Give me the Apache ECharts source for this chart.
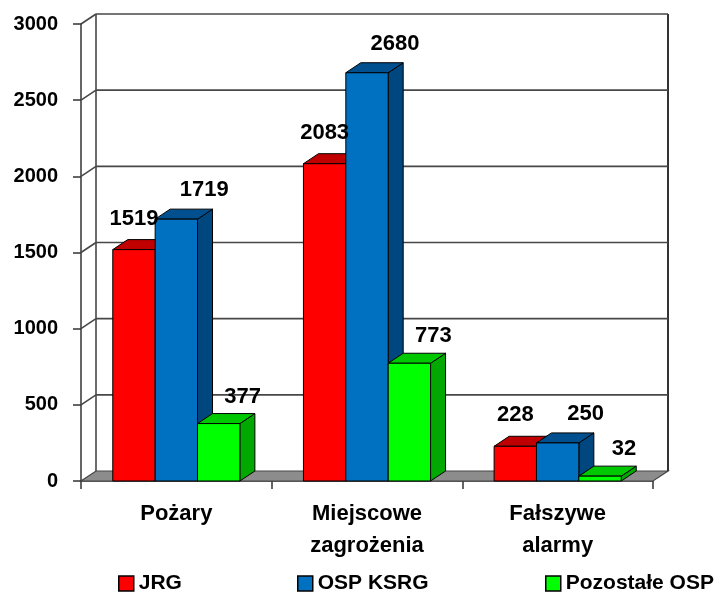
<!DOCTYPE html>
<html>
<head>
<meta charset="utf-8">
<script src="https://cdn.jsdelivr.net/npm/echarts@6/dist/echarts.min.js"></script>
<style>
  html, body { margin: 0; padding: 0; background: #fff; }
  #chart { width: 717px; height: 592px; }
</style>
</head>
<body>
<div id="chart"></div>
<script>
// dane
var categories = ['Pożary', 'Miejscowe\nzagrożenia', 'Fałszywe\nalarmy'];
var seriesNames = ['JRG', 'OSP KSRG', 'Pozostałe OSP'];
var jrg = [1519, 2083, 228];
var ospKsrg = [1719, 2680, 250];
var pozostale = [377, 773, 32];
var yTicks = [0, 500, 1000, 1500, 2000, 2500, 3000];

var DX = 15, DY = 10;          // glebokosc 3D
var LINE = '#474747';
var FONT = '"Liberation Sans", Arial, sans-serif';

var faces = [
  { front: '#ff0000', top: '#c00000', side: '#b00000', lx: 0,  ly: 31 },
  { front: '#0070c0', top: '#00508f', side: '#00477f', lx: 28, ly: 29 },
  { front: '#00ff00', top: '#00c800', side: '#00a800', lx: 24, ly: 27 }
];

function toPairs(arr) {
  return arr.map(function (v, i) { return [i, v]; });
}

// sciany i podloga
function renderWall(params, api) {
  var cs = params.coordSys;
  var v = api.value(0);
  var y = api.coord([0, v])[1];
  var left = cs.x, right = cs.x + cs.width;
  var ch = [];
  if (v === 0) {
    ch.push({
      type: 'polygon',
      shape: { points: [[left, y], [right, y], [right + DX, y - DY], [left + DX, y - DY]] },
      style: { fill: '#8c8c8c', stroke: LINE, lineWidth: 1.2 }
    });
    var yTop = api.coord([0, yTicks[yTicks.length - 1]])[1];
    ch.push({ type: 'line', shape: { x1: left + DX, y1: yTop - DY, x2: left + DX, y2: y - DY }, style: { stroke: LINE, lineWidth: 1.6 } });
    ch.push({ type: 'line', shape: { x1: right + DX, y1: yTop - DY, x2: right + DX, y2: y - DY }, style: { stroke: '#333', lineWidth: 2 } });
  } else {
    ch.push({ type: 'line', shape: { x1: left, y1: y, x2: left + DX, y2: y - DY }, style: { stroke: LINE, lineWidth: 1.6 } });
    ch.push({ type: 'line', shape: { x1: left + DX, y1: y - DY, x2: right + DX, y2: y - DY }, style: { stroke: LINE, lineWidth: 1.6 } });
  }
  return { type: 'group', children: ch };
}

function barRenderer(s) {
  var f = faces[s];
  return function (params, api) {
    var c = api.value(0), v = api.value(1);
    var base = api.coord([c, 0]);
    var top = api.coord([c, v]);
    var bw = api.size([1, 0])[0] / 4.5;
    var x0 = base[0] - 1.5 * bw + s * bw, x1 = x0 + bw;
    var yt = top[1], yb = base[1];
    var st = { stroke: '#000', lineWidth: 1 };
    return {
      type: 'group',
      children: [
        { type: 'polygon', shape: { points: [[x1, yb], [x1, yt], [x1 + DX, yt - DY], [x1 + DX, yb - DY]] },
          style: Object.assign({ fill: f.side }, st) },
        { type: 'polygon', shape: { points: [[x0, yt], [x1, yt], [x1 + DX, yt - DY], [x0 + DX, yt - DY]] },
          style: Object.assign({ fill: f.top }, st) },
        { type: 'rect', shape: { x: x0, y: yt, width: bw, height: yb - yt },
          style: Object.assign({ fill: f.front }, st) }
      ]
    };
  };
}

function renderLabel(params, api) {
  var c = api.value(0), v = api.value(1), s = api.value(2);
  var f = faces[s];
  var base = api.coord([c, 0]);
  var top = api.coord([c, v]);
  var bw = api.size([1, 0])[0] / 4.5;
  var cx = base[0] - 1.5 * bw + s * bw + bw / 2;
  return {
    type: 'text',
    x: cx + f.lx,
    y: top[1] - f.ly,
    style: { text: String(v), fill: '#000', font: 'bold 22px ' + FONT, align: 'center', verticalAlign: 'middle' }
  };
}

var labelData = [];
[jrg, ospKsrg, pozostale].forEach(function (arr, s) {
  arr.forEach(function (v, i) { labelData.push([i, v, s]); });
});

var chart = echarts.init(document.getElementById('chart'));
chart.setOption({
  animation: false,
  grid: { left: 81, right: 64, top: 24, bottom: 111 },
  xAxis: {
    type: 'category',
    data: categories,
    axisLine: { lineStyle: { color: '#333', width: 1.5 } },
    axisTick: { show: true, length: 8, lineStyle: { color: '#333', width: 1.5 } },
    axisLabel: { color: '#000', fontFamily: FONT, fontWeight: 'bold', fontSize: 22, lineHeight: 32, margin: 17 },
    splitLine: { show: false }
  },
  yAxis: {
    type: 'value',
    min: 0,
    max: 3000,
    interval: 500,
    axisLine: { show: true, lineStyle: { color: '#333', width: 1.5 } },
    axisTick: { show: true, length: 8, lineStyle: { color: '#333', width: 1.5 } },
    axisLabel: { color: '#000', fontFamily: FONT, fontWeight: 'bold', fontSize: 20, margin: 23,
      formatter: function (v) { return String(v); } },
    splitLine: { show: false }
  },
  legend: [
    { data: [seriesNames[0]], left: 118, top: 573 },
    { data: [seriesNames[1]], left: 297, top: 573 },
    { data: [seriesNames[2]], left: 545, top: 573 }
  ].map(function (l) {
    return Object.assign(l, {
      icon: 'rect', itemWidth: 15, itemHeight: 15, itemGap: 0, padding: 0,
      itemStyle: { borderColor: '#000', borderWidth: 1.5 },
      textStyle: { color: '#000', fontFamily: FONT, fontWeight: 'bold', fontSize: 21, padding: [0, 0, 0, 0] },
      selectedMode: false
    });
  }),
  series: [
    { type: 'custom', name: 'wall', silent: true, z: 1, renderItem: renderWall,
      data: yTicks.map(function (t) { return [t]; }), encode: { y: 0 } },
    { type: 'custom', name: seriesNames[0], z: 2, renderItem: barRenderer(0), itemStyle: { color: faces[0].front },
      data: toPairs(jrg), encode: { x: 0, y: 1 } },
    { type: 'custom', name: seriesNames[1], z: 3, renderItem: barRenderer(1), itemStyle: { color: faces[1].front },
      data: toPairs(ospKsrg), encode: { x: 0, y: 1 } },
    { type: 'custom', name: seriesNames[2], z: 4, renderItem: barRenderer(2), itemStyle: { color: faces[2].front },
      data: toPairs(pozostale), encode: { x: 0, y: 1 } },
    { type: 'custom', name: 'labels', silent: true, z: 10, renderItem: renderLabel,
      data: labelData, encode: { x: 0, y: 1 } }
  ]
});
</script>
</body>
</html>
